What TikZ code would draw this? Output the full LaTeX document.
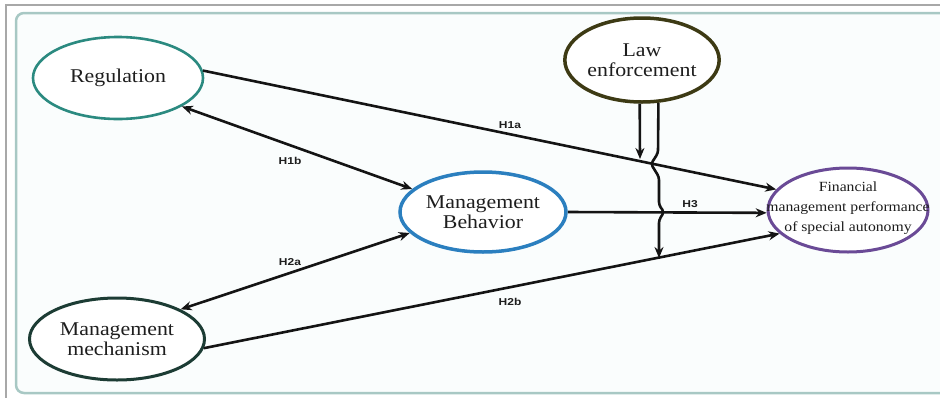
\documentclass[tikz,border=0pt]{standalone}
\usepackage{fontspec}
\setmainfont{Liberation Serif}[FakeStretch=1.12]
\newfontfamily\hfont{Liberation Sans}[FakeStretch=1.2]
\usetikzlibrary{shapes.geometric,arrows.meta,calc}
\definecolor{regc}{HTML}{2B8A80}
\definecolor{lawc}{HTML}{3D3A14}
\definecolor{behc}{HTML}{2B7FBF}
\definecolor{finc}{HTML}{6A4A96}
\definecolor{mechc}{HTML}{1C3C34}
\definecolor{framec}{HTML}{A8C8C4}
\definecolor{grayc}{HTML}{A8A8A8}
\definecolor{txtc}{HTML}{1E1E1E}
\tikzset{
  construct/.style={ellipse, inner sep=0pt, fill=white, text=txtc,
    font=\fontsize{19.5}{20}\selectfont, align=center},
  link/.style={line width=2.6pt, draw=black!92, -{Stealth[length=11pt,width=9pt]}},
  duallink/.style={link, {Stealth[length=11pt,width=9pt]}-{Stealth[length=11pt,width=9pt]}},
  hlabel/.style={font=\hfont\bfseries\fontsize{10}{11}\selectfont, text=txtc, inner sep=1pt}
}
\begin{document}
\begin{tikzpicture}[x=1pt,y=-1pt]
\useasboundingbox (0,0) rectangle (940,397);
% frame
\draw[grayc, line width=2pt] (6,400) -- (6,5) -- (945,5);
\draw[framec, line width=2.5pt, fill={rgb,255:red,250;green,253;blue,253}, rounded corners=8pt] (16,393) rectangle (955,13);
% nodes
\node[construct, draw=regc, line width=2.6pt, minimum width=170pt, minimum height=82pt] (reg) at (118,78) {Regulation};
\node[construct, draw=lawc, line width=3.5pt, minimum width=140pt, minimum height=84pt] (law) at (642,60) {Law\\enforcement};
\node[construct, draw=behc, line width=3.5pt, minimum width=166pt, minimum height=80pt] (beh) at (483,212) {Management\\Behavior};
\node[construct, draw=finc, line width=3pt, minimum width=160pt, minimum height=84pt] (fin) at (848,210) {};
\node[font=\fontsize{14}{20}\selectfont, align=center, text=txtc] (fintext) at (848,208) {Financial\\management performance\\of special autonomy};
\node[construct, draw=mechc, line width=3pt, minimum width=175pt, minimum height=82pt] (mech) at (117,339) {Management\\mechanism};
% connectors
\draw[link] (reg.5) -- (fin.164);
\draw[duallink] (reg.-24) -- (beh.162);
\draw[duallink] (mech.25) -- (beh.196);
\draw[link] (mech.-6) -- (fin.199);
\draw[link] (beh.east) -- (fin.182);
% labels
\node[hlabel] (h1a) at (510,125) {H1a};
\node[hlabel] (h1b) at (290,161) {H1b};
\node[hlabel] (h2a) at (290,262) {H2a};
\node[hlabel] (h2b) at (510,302) {H2b};
\node[hlabel] (h3) at (690,204) {H3};
% moderator
\coordinate (l1) at (law.-93);
\coordinate (l1end) at (640,159);
\coordinate (l2) at (law.-69);
\coordinate (l2end) at (659,258);
\draw[link] (l1) -- (l1end);
\draw[link, rounded corners=3pt] (l2) -- (658,153) -- (651,164) -- (659,177) -- (659,205) -- (664,212) -- (659,220) -- (l2end);
\end{tikzpicture}
\end{document}
